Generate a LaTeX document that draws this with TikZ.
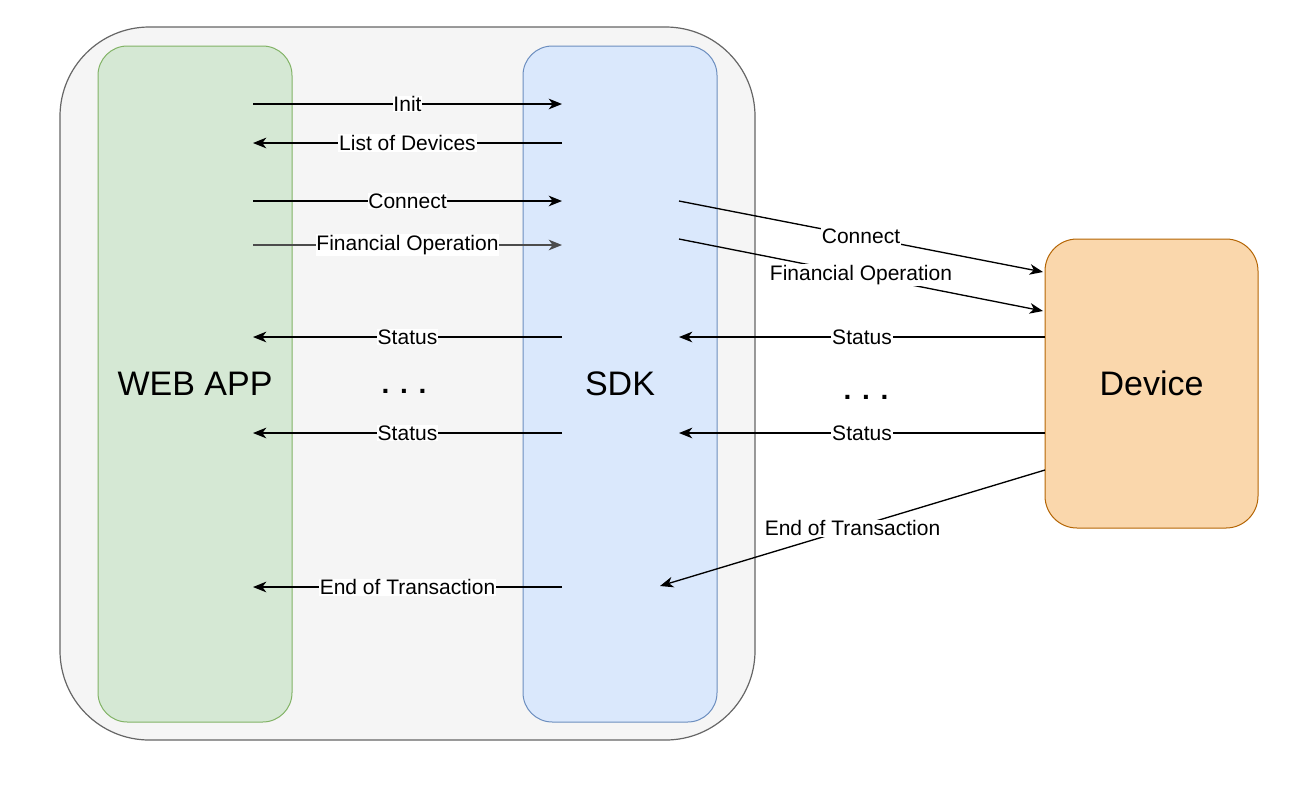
\documentclass[tikz,border=0pt]{standalone}
\usepackage{fontspec}
\setmainfont{Liberation Sans}
\usetikzlibrary{arrows.meta}
\definecolor{webfill}{HTML}{D5E8D4}
\definecolor{webline}{HTML}{82B366}
\definecolor{sdkfill}{HTML}{DAE8FC}
\definecolor{sdkline}{HTML}{6C8EBF}
\definecolor{devfill}{HTML}{FAD7AC}
\definecolor{devline}{HTML}{B46504}
\definecolor{framefill}{HTML}{F5F5F5}
\definecolor{frameline}{HTML}{666666}
\newcommand{\dotrow}{.\hspace{8pt}.\hspace{8pt}.}

\begin{document}
\begin{tikzpicture}[
  x=0.75pt, y=-0.75pt,
  box/.style={draw, line width=0.75pt, rounded corners=22pt, inner sep=0pt,
    minimum width=145.5pt, minimum height=507pt, align=center,
    font=\fontsize{25.5}{30}\selectfont},
  arrow/.style={-{Stealth[length=10pt,width=8pt,inset=3pt]}, line width=1pt},
  lbl/.style={fill=white, inner sep=0.6pt, font=\fontsize{15.75}{18}\selectfont},
  dots/.style={font=\fontsize{21}{24}\selectfont\bfseries}
]
\useasboundingbox (0,0) rectangle (1292,790);

\node[draw=frameline, fill=framefill, line width=0.9pt, rounded corners=67pt,
  minimum width=521.25pt, minimum height=534.75pt] (frame) at (407.5,383.5) {};
\node[box, draw=webline, fill=webfill] (web) at (195,384) {WEB APP};
\node[box, draw=sdkline, fill=sdkfill] (sdk) at (620,384) {SDK};
\node[box, draw=devline, fill=devfill, rounded corners=24pt,
  minimum width=159.75pt, minimum height=216.75pt] (dev) at (1151.5,383.5) {Device};

\node[dots] (dl) at (404,391) {\dotrow};
\node[dots] (dr) at (866,397) {\dotrow};

\coordinate (w1) at (253,104);  \coordinate (s1) at (562,104);
\coordinate (w2) at (253,143);  \coordinate (s2) at (562,143);
\coordinate (w3) at (253,201);  \coordinate (s3) at (562,201);
\coordinate (w4) at (253,245);  \coordinate (s4) at (562,245);
\coordinate (w5) at (253,337);  \coordinate (s5) at (562,337);
\coordinate (w6) at (253,433);  \coordinate (s6) at (562,433);
\coordinate (w7) at (253,587);  \coordinate (s7) at (562,587);

\coordinate (r1) at (679,201);  \coordinate (d1) at (1043,272);
\coordinate (r2) at (679,239);  \coordinate (d2) at (1043,311);
\coordinate (r3) at (679,337);  \coordinate (d3) at (1045,337);
\coordinate (r4) at (679,433);  \coordinate (d4) at (1045,433);
\coordinate (r5) at (660,586);  \coordinate (d5) at (1045,470);

\draw[arrow] (w1) -- node[lbl] {Init} (s1);
\draw[arrow] (s2) -- node[lbl] {List of Devices} (w2);
\draw[arrow] (w3) -- node[lbl] {Connect} (s3);
\draw[arrow, black!70] (w4) -- node[lbl, text=black] {Financial Operation} (s4);
\draw[arrow] (s5) -- node[lbl] {Status} (w5);
\draw[arrow] (s6) -- node[lbl] {Status} (w6);
\draw[arrow] (s7) -- node[lbl] {End of Transaction} (w7);

\draw[arrow] (r1) -- node[lbl] {Connect} (d1);
\draw[arrow] (r2) -- node[lbl] {Financial Operation} (d2);
\draw[arrow] (d3) -- node[lbl] {Status} (r3);
\draw[arrow] (d4) -- node[lbl] {Status} (r4);
\draw[arrow] (d5) -- node[lbl] {End of Transaction} (r5);
\end{tikzpicture}
\end{document}
